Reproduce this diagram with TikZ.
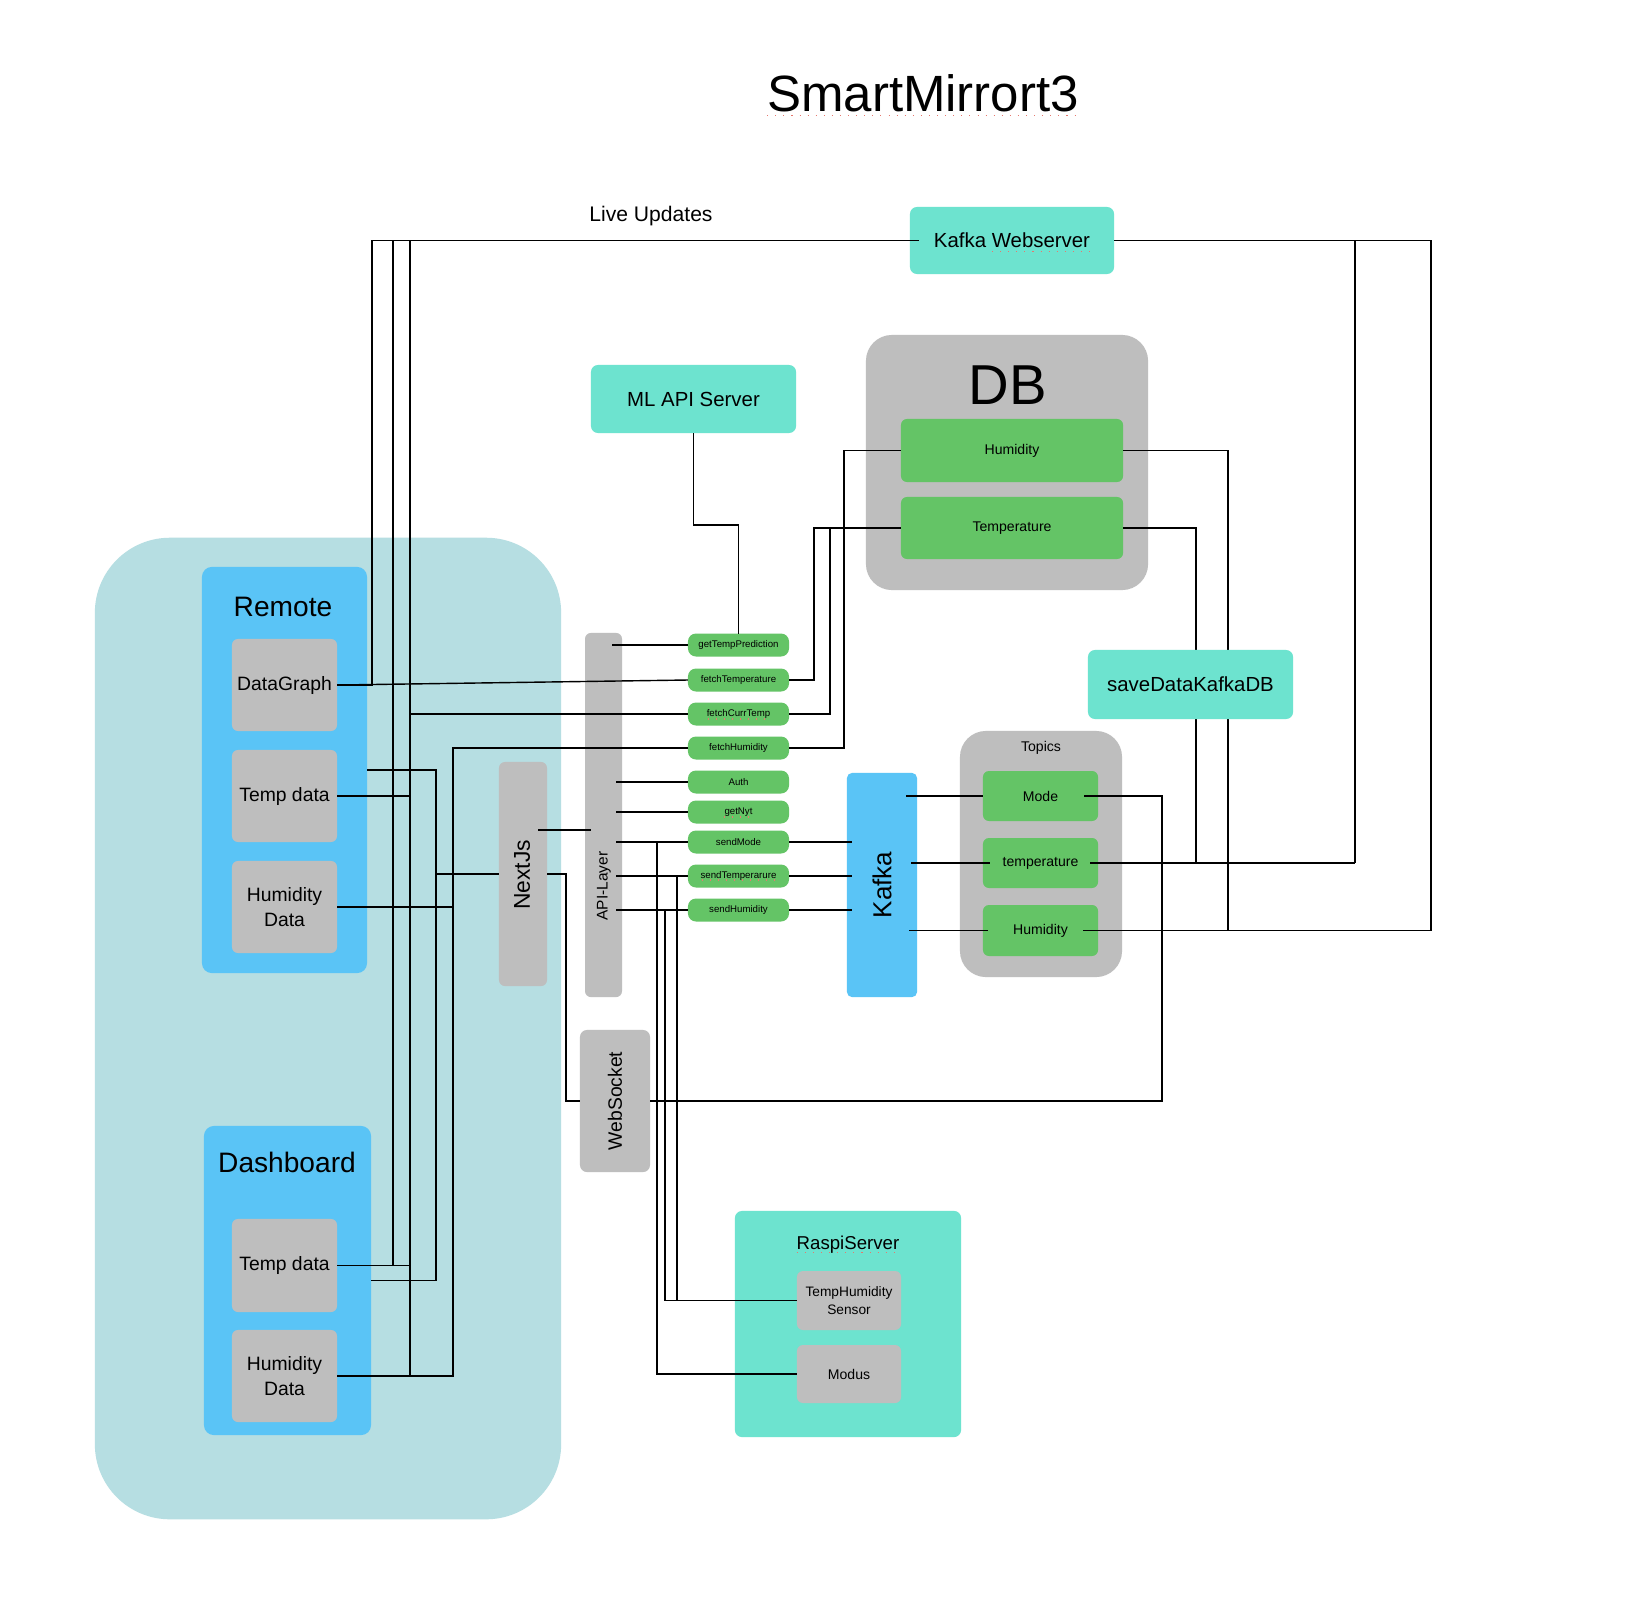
\documentclass[tikz,border=0pt]{standalone}
\usepackage{fontspec}
\setmainfont{Liberation Sans}
\usepackage{tikz}
\usetikzlibrary{positioning, calc}
\definecolor{panelblue}{RGB}{182, 222, 226}
\definecolor{groupblue}{RGB}{90, 196, 246}
\definecolor{boxgray}{RGB}{190, 190, 190}
\definecolor{topicgreen}{RGB}{100, 196, 102}
\definecolor{serverteal}{RGB}{109, 227, 207}
\definecolor{spellred}{RGB}{230, 120, 110}
\pgfdeclarelayer{front}
\pgfsetlayers{main,front}

\begin{document}
\begin{tikzpicture}[
    x=0.01cm, y=-0.01cm,
    box/.style={rectangle, inner sep=0pt, outer sep=0pt, align=center},
    group/.style={box, fill=groupblue, rounded corners=0.1cm},
    item/.style={box, fill=boxgray, rounded corners=0.06cm, minimum width=1.05cm,
                 font=\fontsize{5.5}{7.1}\selectfont},
    server/.style={box, fill=serverteal, rounded corners=0.07cm, minimum width=2.05cm,
                   minimum height=0.68cm, font=\fontsize{5.8}{7}\selectfont},
    endpoint/.style={box, fill=topicgreen, rounded corners=0.08cm, minimum width=1.01cm,
                     minimum height=0.23cm, font=\fontsize{2.75}{3.3}\selectfont},
    topic/.style={box, fill=topicgreen, rounded corners=0.06cm, font=\fontsize{4}{4.8}\selectfont},
    wire/.style={line width=0.4pt},
    spell/.style={spellred, dotted, line width=0.3pt}
]

% Canvas
\fill[white] (0,0) rectangle (1628,1621);
\useasboundingbox (0,0) rectangle (1628,1621);

% Title
\node[box, font=\fontsize{14.5}{17}\selectfont] (title) at (923,93) {SmartMirrort3};
\node[box, font=\fontsize{6}{7.2}\selectfont, anchor=base] (live) at (651,221) {Live Updates};

% Client side
\node[box, fill=panelblue, rounded corners=0.75cm, minimum width=4.66cm, minimum height=9.81cm] (client) at (328,1028.5) {};

\node[group, minimum width=1.65cm, minimum height=4.06cm] (remote) at (284.5,770) {};
\node[box, font=\fontsize{8}{9.6}\selectfont] (remotelabel) at (283,607) {Remote};
\node[item, minimum height=0.92cm] (datagraph) at (284.5,685) {DataGraph};
\node[item, minimum height=0.92cm] (remtemp) at (284.5,796) {Temp data};
\node[item, minimum height=0.92cm] (remhum) at (284.5,907) {Humidity\\Data};

\node[group, minimum width=1.67cm, minimum height=3.09cm] (dashboard) at (287.5,1280.5) {};
\node[box, font=\fontsize{8}{9.6}\selectfont] (dashlabel) at (287,1162) {Dashboard};
\node[item, minimum height=0.93cm] (dashtemp) at (284.5,1265.5) {Temp data};
\node[item, minimum height=0.92cm] (dashhum) at (284.5,1376) {Humidity\\Data};

\node[box, fill=boxgray, rounded corners=0.06cm, minimum width=0.48cm, minimum height=2.24cm] (nextjs) at (523,874) {};
\node[box, rotate=90, font=\fontsize{6.5}{7.8}\selectfont] (nextjslabel) at (522,875) {NextJs};

% API layer
\node[box, fill=boxgray, rounded corners=0.06cm, minimum width=0.37cm, minimum height=3.64cm] (api) at (603.5,815) {};
\node[box, rotate=90, font=\fontsize{4.4}{5.3}\selectfont] (apilabel) at (604,886) {API-Layer};

\foreach \name/\py/\txt in {gettemp/645/getTempPrediction, fetchtemp/680/fetchTemperature,
        fetchcurr/714/fetchCurrTemp, fetchhum/748/fetchHumidity, auth/782/Auth, getnyt/812/getNyt,
        sendmode/842/sendMode, sendtemp/876/sendTemperarure, sendhum/910/sendHumidity}
    \node[endpoint] (\name) at (738.5,\py) {\txt};

\node[box, fill=boxgray, rounded corners=0.07cm, minimum width=0.7cm, minimum height=1.42cm] (websocket) at (615,1101) {};
\node[box, rotate=90, font=\fontsize{5.5}{6.6}\selectfont] (websocketlabel) at (615,1101) {WebSocket};

% Servers
\node[server] (mlapi) at (693.5,399) {ML API Server};
\node[server, minimum width=2.04cm, minimum height=0.67cm] (kws) at (1012,240.5) {Kafka Webserver};

% Database
\node[box, fill=boxgray, rounded corners=0.26cm, minimum width=2.82cm, minimum height=2.55cm] (db) at (1007,462.5) {};
\node[box, font=\fontsize{16}{19}\selectfont] (dblabel) at (1008,385) {DB};
\node[topic, minimum width=2.22cm, minimum height=0.63cm] (dbhum) at (1012,450.5) {Humidity};
\node[topic, minimum width=2.22cm, minimum height=0.62cm] (dbtemp) at (1012,528) {Temperature};

% Kafka and topics
\node[box, fill=groupblue, rounded corners=0.05cm, minimum width=0.7cm, minimum height=2.24cm] (kafka) at (882,885) {};
\node[box, rotate=90, font=\fontsize{7.4}{8.9}\selectfont] (kafkalabel) at (882,885) {Kafka};

\node[box, fill=boxgray, rounded corners=0.26cm, minimum width=1.62cm, minimum height=2.46cm] (topics) at (1041,854) {};
\node[box, font=\fontsize{4}{4.8}\selectfont] (topicslabel) at (1041,748) {Topics};
\node[topic, minimum width=1.15cm, minimum height=0.5cm] (mode) at (1040.5,796) {Mode};
\node[topic, minimum width=1.15cm, minimum height=0.5cm] (temperature) at (1040.5,863) {temperature};
\node[topic, minimum width=1.15cm, minimum height=0.51cm] (humidity) at (1040.5,930.5) {Humidity};

% Raspberry Pi
\node[box, fill=serverteal, rounded corners=0.07cm, minimum width=2.26cm, minimum height=2.26cm] (raspi) at (848,1324) {};
\node[box, font=\fontsize{5.3}{6.4}\selectfont] (raspilabel) at (848,1245) {RaspiServer};
\node[item, minimum width=1.04cm, minimum height=0.59cm, font=\fontsize{3.9}{5.05}\selectfont] (sensor) at (849,1300.5) {TempHumidity\\Sensor};
\node[item, minimum width=1.04cm, minimum height=0.58cm, font=\fontsize{4}{4.8}\selectfont] (modus) at (849,1374) {Modus};

% Spell-check marks
\draw[spell] ($(title.base west)+(0,4)$) -- ($(title.base east)+(0,4)$);
\draw[spell] ($(kws)+(-20,11)$) -- ($(kws)+(80,11)$);
\draw[spell] ($(raspilabel.base west)+(0,3)$) -- ($(raspilabel.base east)+(0,3)$);
\draw[spell] ($(fetchcurr)+(-31,5)$) -- ($(fetchcurr)+(31,5)$);
\draw[spell] ($(getnyt)+(-15,5)$) -- ($(getnyt)+(15,5)$);
\draw[spell] ($(sendtemp)+(-37,4)$) -- ($(sendtemp)+(37,4)$);

% Client wiring
\coordinate (busA) at (372,240.5);
\coordinate (busB) at (393,240.5);
\coordinate (busC) at (410,240.5);
\coordinate (busD) at (436,1000);
\coordinate (busE) at (453,1000);

\draw[wire] (datagraph.east) -| (busA) -- ($(kws.west)+(9,0)$);
\draw[wire] (datagraph.east) -- (fetchtemp.west);
\draw[wire] (dashtemp.east) -| (busB);
\draw[wire] (busC) |- (dashhum.east);
\draw[wire] (remtemp.east) -- (remtemp.east -| busC);
\draw[wire] (fetchcurr.west) -- (fetchcurr.west -| busC);
\draw[wire] (dashtemp.east) -- (dashtemp.east -| busC);
\draw[wire] (remote.east) -| (busD) |- (dashboard.east);
\draw[wire] (nextjs.west) -- (nextjs.west -| busD);
\draw[wire] (fetchhum.west) -| (busE) |- (dashhum.east);
\draw[wire] (remhum.east) -- (remhum.east -| busE);

% NextJs wiring
\draw[wire] ($(nextjs.east)+(-9,-44)$) -- ($(api.west)+(6,15)$);
\draw[wire] (nextjs.east) -- ++(19,0) |- (websocket.west);

% API wiring
\draw[wire] ($(api.east |- gettemp.west)+(-10,0)$) -- (gettemp.west);
\foreach \name in {auth, getnyt, sendmode, sendtemp, sendhum}
    \draw[wire] ($(api.east |- \name.west)+(-6,0)$) -- (\name.west);
\draw[wire] (mlapi.south) -- ++(0,92) -| (gettemp.north);
\draw[wire] (fetchtemp.east) -| ++(25,-100) |- (dbtemp.west);
\draw[wire] (fetchcurr.east) -| ++(41,-100) |- (dbtemp.west);
\draw[wire] (fetchhum.east) -| ++(55,-100) |- (dbhum.west);
\foreach \name in {sendmode, sendtemp, sendhum}
    \draw[wire] (\name.east) -- ($(\name.east -| kafka.west)+(5,0)$);

% Raspi wiring
\coordinate (jmode) at (657,842);
\coordinate (jtemp) at (677,876);
\coordinate (jhum) at (665,910);
\draw[wire] (modus.west) -| (jmode);
\draw[wire] (sensor.west) -| (jtemp);
\draw[wire] (sensor.west) -| (jhum);

% Kafka wiring
\draw[wire] ($(kafka.east |- mode.west)+(-11,0)$) -- (mode.west);
\draw[wire] ($(kafka.east |- temperature.west)+(-6,0)$) -- ($(temperature.west)+(7,0)$);
\draw[wire] ($(kafka.east |- humidity.west)+(-8,0)$) -- ($(humidity.west)+(5,0)$);

\coordinate (jws) at (1162,1101);
\draw[wire] ($(mode.east)+(-14,0)$) -| (jws) -- (websocket.east);

\coordinate (jt1) at (1196,863);
\coordinate (jt2) at (1355,863);
\coordinate (jh1) at (1228,930.5);
\coordinate (jh2) at (1431,930.5);
\draw[wire] (dbtemp.east) -| (jt1);
\draw[wire] (dbhum.east) -| (jh1);
\draw[wire] (kws.east) -| (jt2);
\draw[wire] (kws.east) -| (jh2);
\draw[wire] ($(temperature.east)+(-8,0)$) -- (jt2);
\draw[wire] ($(humidity.east)+(-15,0)$) -- (jh2);

% Saver sits over the DB lines
\begin{pgfonlayer}{front}
\node[server, minimum height=0.69cm] (savedb) at (1190.5,684.5) {saveDataKafkaDB};
\end{pgfonlayer}

\end{tikzpicture}
\end{document}
